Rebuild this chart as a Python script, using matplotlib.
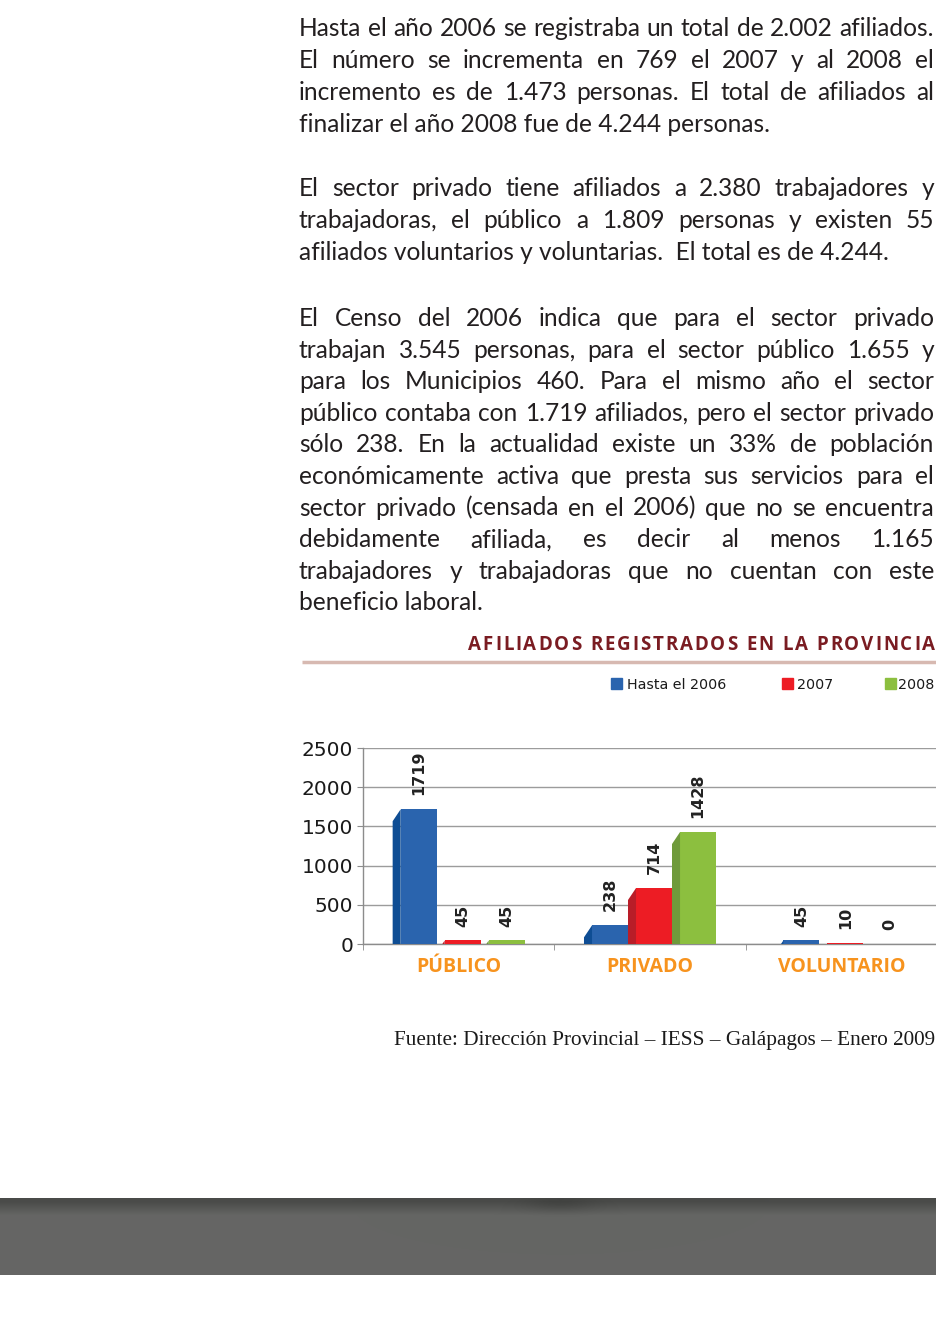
import matplotlib
matplotlib.use("Agg")
import numpy as np
import matplotlib.pyplot as plt
from matplotlib.patches import Polygon, Rectangle

W, H = 937, 1330

# chart data
categories = ["PÚBLICO", "PRIVADO", "VOLUNTARIO"]
series_names = ["Hasta el 2006", "2007", "2008"]
hasta_2006 = [1719, 238, 45]
year_2007 = [45, 714, 10]
year_2008 = [45, 1428, 0]
y_ticks = [0, 500, 1000, 1500, 2000, 2500]

front_colors = ["#2a64ae", "#ed1c24", "#8cbf3f"]
side_colors = ["#0e4d94", "#b91d28", "#6f9a3b"]

title = "AFILIADOS REGISTRADOS EN LA PROVINCIA"
source = "Fuente: Dirección Provincial – IESS – Galápagos – Enero 2009"

# text of the page, line by line as in the original
par1 = ["Hasta el año 2006 se registraba un total de 2.002 afiliados.",
        "El número se incrementa en 769 el 2007 y al 2008 el",
        "incremento es de 1.473 personas. El total de afiliados al",
        "finalizar el año 2008 fue de 4.244 personas."]
par2 = ["El sector privado tiene afiliados a 2.380 trabajadores y",
        "trabajadoras, el público a 1.809 personas y existen 55",
        "afiliados voluntarios y voluntarias.  El total es de 4.244."]
par3 = ["El Censo del 2006 indica que para el sector privado",
        "trabajan 3.545 personas, para el sector público 1.655 y",
        "para los Municipios 460. Para el mismo año el sector",
        "público contaba con 1.719 afiliados, pero el sector privado",
        "sólo 238. En la actualidad existe un 33% de población",
        "económicamente activa que presta sus servicios para el",
        "sector privado (censada en el 2006) que no se encuentra",
        "debidamente afiliada, es decir al menos 1.165",
        "trabajadores y trabajadoras que no cuentan con este",
        "beneficio laboral."]

fig = plt.figure(figsize=(W / 100, H / 100), dpi=100)
renderer = fig.canvas.get_renderer()

# background axes in pixel coordinates
bg = fig.add_axes([0, 0, 1, 1], zorder=0)
bg.axis("off")

# grey footer band
rows = np.arange(77)
shade = np.where(rows < 3, 0x4a, 0x4a + (0x65 - 0x4a) * np.clip((rows - 3) / 14, 0, 1))
cols = np.arange(W)
blob = 10 * np.exp(-((cols[None, :] - 560) ** 2) / (2 * 25 ** 2) - ((rows[:, None] - 6) ** 2) / (2 * 6 ** 2))
val = (shade[:, None] - blob) / 255.0
band = np.dstack([val, val + 1 / 255, val - 1 / 255])
bg.imshow(np.clip(band, 0, 1), extent=[0, W, 1275, 1198], aspect="auto", interpolation="bilinear")
bg.set_xlim(0, W)
bg.set_ylim(H, 0)


def text_width(s, **kw):
    t = bg.text(0, 0, s, **kw)
    w = t.get_window_extent(renderer).width
    t.remove()
    return w


# paragraphs, justified
body = dict(family="Lato", color="#231f20", va="baseline", ha="left")
body_size = 20 * 472 / text_width(par1[-1], fontsize=20, **body)
LEFT, RIGHT = 299, 934


def draw_line(line, yb, justify):
    if not justify:
        bg.text(LEFT, yb, line, fontsize=body_size, **body)
        return
    words = line.split()
    ts = [bg.text(0, yb, w, fontsize=body_size, **body) for w in words]
    widths = [t.get_window_extent(renderer).width for t in ts]
    gap = (RIGHT - LEFT - sum(widths)) / (len(words) - 1)
    x = LEFT
    for t, w in zip(ts, widths):
        t.set_x(x)
        x += w + gap


for par, y0, step in [(par1, 36, 32), (par2, 196, 32), (par3, 326, 31.6)]:
    for k, line in enumerate(par):
        draw_line(line, y0 + k * step, k < len(par) - 1)

# title with letter spacing
tkw = dict(fontsize=13.5, fontweight="bold", family="Open Sans", color="#7a1c22",
           va="baseline", ha="left")
iw = text_width("I", **tkw)
offsets = [text_width(title[:k] + "I", **tkw) - iw for k in range(len(title))]
natural = text_width(title, **tkw)
track = (935 - 468 - natural) / (len(title) - 1)
x_start = 468
for k, ch in enumerate(title):
    if ch != " ":
        bg.text(x_start + offsets[k] + k * track, 650, ch, **tkw)
bg.plot([302, 937], [662, 662], color="#d7b9b1", lw=2.5, solid_capstyle="butt")

# legend
leg_x = [(611, 627), (782, 797), (885, 898)]
for (sx, tx), name, c in zip(leg_x, series_names, front_colors):
    bg.add_patch(Rectangle((sx, 678), 11, 11, color=c))
    bg.text(tx, 689, name, fontsize=10.3, family="DejaVu Sans", color="#1a1a1a", va="baseline")

# source
bg.text(935, 1045, source, ha="right", va="baseline", fontsize=15.3,
        family="Liberation Serif", color="#1a1a1a")

# bar chart
ax = fig.add_axes([363 / W, 1 - 944 / H, (W - 363) / W, 196 / H], zorder=1)
ax.patch.set_alpha(0)
ax.set_xlim(-0.5, 2.5)
ax.set_ylim(0, 2500)

slot = 0.23
side = 0.042
front = slot - side
depth = 153
for j, vals in enumerate([hasta_2006, year_2007, year_2008]):
    for i, v in enumerate(vals):
        x0 = i + (j - 1.5) * slot
        ax.bar(x0 + side, v, width=front, align="edge", color=front_colors[j], zorder=3)
        ax.add_patch(Polygon([(x0, 0), (x0, v - depth), (x0 + side, v), (x0 + side, 0)],
                             closed=True, color=side_colors[j], zorder=3, lw=0))
        ax.annotate(str(v), (x0 + side + front / 2, v), xytext=(0, 10), textcoords="offset points",
                    rotation=90, ha="center", va="bottom", fontsize=11.5, fontweight="bold",
                    color="#222222", family="DejaVu Sans", annotation_clip=False)

ax.set_axisbelow(True)
ax.yaxis.grid(True, color="#9c9c9c", lw=1)
for s in ["top", "right"]:
    ax.spines[s].set_visible(False)
for s in ["left", "bottom"]:
    ax.spines[s].set_color("#8c8c8c")
    ax.spines[s].set_linewidth(1)

ax.set_yticks(y_ticks)
ax.tick_params(axis="y", length=4, color="#8c8c8c", labelsize=14.5, pad=3, labelcolor="#1a1a1a")
for lab in ax.get_yticklabels():
    lab.set_family("DejaVu Sans")
ax.set_xticks([0, 1, 2])
ax.set_xticklabels(categories, fontsize=14, fontweight="bold", color="#f7931e", family="Open Sans")
ax.set_xticks([-0.5, 0.5, 1.5, 2.5], minor=True)
ax.tick_params(axis="x", which="major", length=0, pad=9)
ax.tick_params(axis="x", which="minor", length=4.5, color="#8c8c8c")

fig.savefig("out.png", dpi=100)
